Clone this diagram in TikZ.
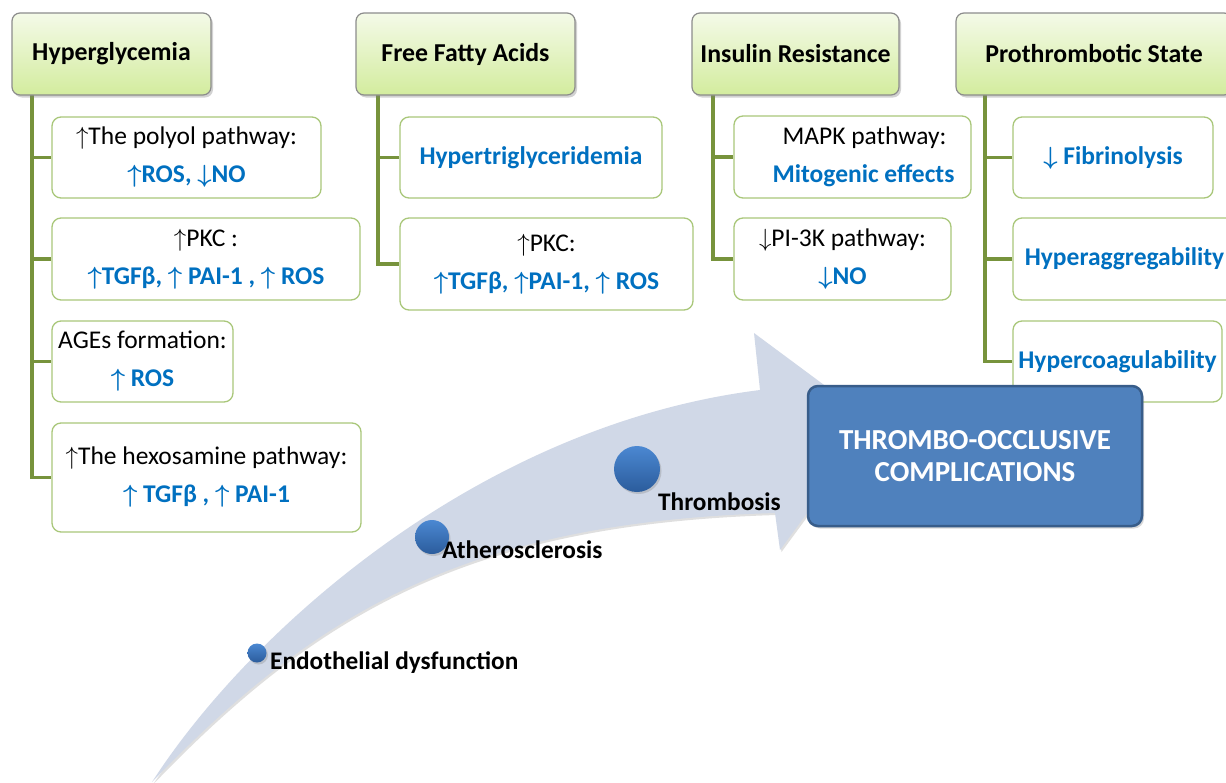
\documentclass[tikz,border=0pt]{standalone}
\usepackage{fontspec}
\setmainfont{Carlito}
\usetikzlibrary{shadows,backgrounds}

\definecolor{treegreen}{HTML}{77933C}
\definecolor{subgreen}{HTML}{A9C77A}
\definecolor{hdrtop}{HTML}{F4FAE8}
\definecolor{hdrbot}{HTML}{D3EC9E}
\definecolor{hdrline}{HTML}{8C8C8C}
\definecolor{txtblue}{HTML}{0070C0}
\definecolor{bandfill}{HTML}{D0D8E7}
\definecolor{boxblue}{HTML}{4F81BD}
\definecolor{boxline}{HTML}{385D8A}
\definecolor{balltop}{HTML}{4B88D2}
\definecolor{ballbot}{HTML}{2B5C9C}

\newcommand{\uarr}{$\uparrow$}
\newcommand{\darr}{$\downarrow$}
\newcommand{\hl}[1]{{\color{txtblue}\bfseries\boldmath #1}}

\begin{document}
\begin{tikzpicture}[x=1pt,y=-1pt,
  every node/.style={font=\fontsize{25.5}{38}\selectfont},
  hdr/.style={draw=hdrline, line width=1.2pt, rounded corners=8pt,
    top color=hdrtop, bottom color=hdrbot,
    drop shadow={shadow xshift=2pt, shadow yshift=-2.5pt, opacity=0.35},
    font=\fontsize{25.8}{30}\selectfont\bfseries,
    minimum height=82pt, inner sep=0pt},
  sub/.style={draw=subgreen, line width=1.3pt, fill=white, rounded corners=9pt,
    align=center, inner sep=0pt},
  tree/.style={draw=treegreen, line width=3.5pt},
  ball/.style={circle, inner sep=0pt, top color=balltop, bottom color=ballbot,
    drop shadow={shadow xshift=1.5pt, shadow yshift=-2pt, opacity=0.3}},
  lbl/.style={inner sep=0pt, anchor=west, font=\fontsize{25.3}{30}\selectfont\bfseries},
  bigbox/.style={draw=boxline, line width=2.5pt, fill=boxblue, rounded corners=10pt,
    minimum width=334pt, minimum height=140pt, align=center, text=white,
    font=\fontsize{29}{32}\selectfont\bfseries,
    drop shadow={shadow xshift=2pt, shadow yshift=-2.5pt, opacity=0.3}}
]
\useasboundingbox (0,0) rectangle (1226,782);
\clip (0,0) rectangle (1226,782);

% curved progression arrow
\path[fill=bandfill, drop shadow={shadow xshift=1.5pt, shadow yshift=-2pt, opacity=0.25}]
  (152,782) .. controls (250,630) and (480,425) .. (760,390)
  -- (754,333) -- (874,422) -- (780,550) -- (775,513)
  .. controls (475,522) and (322,605) .. (152,782) -- cycle;

% stages along the arrow
\node[ball, minimum size=19pt] (b1) at (257,653) {};
\node[ball, minimum size=34pt] (b2) at (432,537) {};
\node[ball, minimum size=46pt] (b3) at (637,469) {};
\node[lbl] (l1) at (270,663) {Endothelial dysfunction};
\node[lbl] (l2) at (442,550) {Atherosclerosis};
\node[lbl] (l3) at (658,502) {Thrombosis};

% tree trunks
\coordinate (hgT) at (32,95);
\coordinate (ffaT) at (378,95);
\coordinate (irT) at (713,95);
\coordinate (psT) at (985,95);

% sub boxes
\node[sub, minimum width=269pt, minimum height=81pt] (hg1) at (186.5,157.5)
  {\uarr The polyol pathway:\\ \hl{\uarr ROS, \darr NO}};
\node[sub, minimum width=308pt, minimum height=82pt] (hg2) at (206,259)
  {\uarr PKC :\\ \hl{\uarr TGFβ, \uarr\ PAI-1 , \uarr\ ROS}};
\node[sub, minimum width=181pt, minimum height=81pt] (hg3) at (142.5,361.5)
  {AGEs formation:\\ \hl{\uarr\ ROS}};
\node[sub, minimum width=309pt, minimum height=109pt] (hg4) at (206.5,477.5)
  {\uarr The hexosamine pathway:\\ \hl{\uarr\ TGFβ , \uarr\ PAI-1}};

\node[sub, minimum width=262pt, minimum height=81pt] (ffa1) at (531,157.5)
  {\hl{Hypertriglyceridemia}};
\node[sub, minimum width=293pt, minimum height=92pt] (ffa2) at (546.5,264)
  {\uarr PKC:\\ \hl{\uarr TGFβ, \uarr PAI-1, \uarr\ ROS}};

\node[sub, minimum width=237pt, minimum height=82pt] (ir1) at (852.5,157)
  {\hspace*{24pt}MAPK pathway:\\ \hspace*{22pt}\hl{Mitogenic effects}};
\node[sub, minimum width=217pt, minimum height=82pt] (ir2) at (842.5,259)
  {\darr PI-3K pathway:\\ \hl{\darr NO}};

\node[sub, minimum width=200pt, minimum height=81pt] (ps1) at (1113,157.5)
  {\hl{\darr\ Fibrinolysis}};
\node[sub, minimum width=223pt, minimum height=82pt] (ps2) at (1124.5,259)
  {\hl{Hyperaggregability}};
\node[sub, minimum width=209pt, minimum height=81pt] (ps3) at (1117.5,361.5)
  {\hl{Hypercoagulability}};

% branches from each trunk, kept behind the boxes
\begin{scope}[on background layer]
\fill[white] (0,0) rectangle (1226,782);
\foreach \n in {hg1,hg2,hg3,hg4} \draw[tree] (hgT) |- (\n.west);
\foreach \n in {ffa1,ffa2} \draw[tree] (ffaT) |- (\n.west);
\foreach \n in {ir1,ir2} \draw[tree] (irT) |- (\n.west);
\foreach \n in {ps1,ps2,ps3} \draw[tree] (psT) |- (\n.west);
\end{scope}

% headers
\node[hdr, minimum width=199pt] (hg) at (111.5,54) {Hyperglycemia};
\node[hdr, minimum width=219pt] (ffa) at (465.5,54) {Free Fatty Acids};
\node[hdr, minimum width=207pt] (ir) at (795.5,54) {Insulin Resistance};
\node[hdr, minimum width=276pt] (ps) at (1094,54) {Prothrombotic State};

% outcome
\node[bigbox] (toc) at (975,456) {THROMBO-OCCLUSIVE\\COMPLICATIONS};
\end{tikzpicture}
\end{document}
